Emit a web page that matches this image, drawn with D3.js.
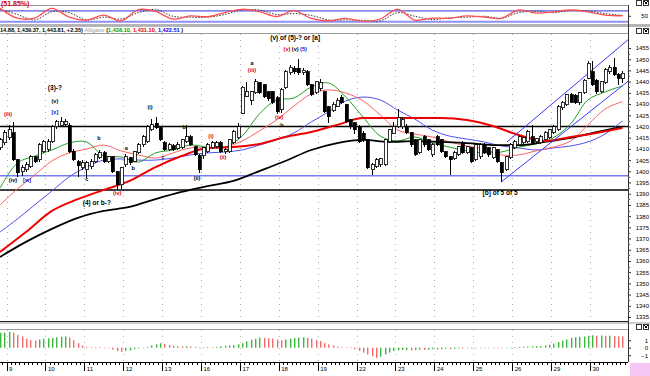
<!DOCTYPE html>
<html><head><meta charset="utf-8">
<script src="https://cdn.jsdelivr.net/npm/d3@7"></script>
<style>
body{margin:0;background:#fff}
svg{display:block}
text{font-family:"Liberation Sans",Arial,sans-serif}
</style></head>
<body><svg id="c" width="650" height="376"></svg>
<script>
// ---------- DATA ----------
const dates = ["9","10","11","12","13","16","17","18","19","22","23","24","25","26","29","30"];
const priceTicks = [1335,1340,1345,1350,1355,1360,1365,1370,1375,1380,1385,1390,1395,1400,1405,1410,1415,1420,1425,1430,1435,1440,1445,1450,1455];
// candles, index 0..144
const openP  = [1410.5,1412.7,1414.9,1417.1,1405.1,1399.8,1400.7,1402,1406.4,1405.1,1408.7,1409.6,1413.1,1419.8,1420.3,1421,1420.5,1409,1404.2,1401.5,
1400.7,1402,1404.2,1406,1408.2,1404.2,1406.4,1399.8,1394,1402.9,1406,1404.5,1408.2,1411.8,1413.1,1418.5,1421.5,1419.4,1412.7,1409.6,
1411.5,1410,1410.5,1413.1,1415.4,1410.9,1407,1407,1408.7,1410.5,1411,1412.7,1408.7,1408.7,1412.7,1414.9,1426,1433.5,1431.8,1435,
1439.4,1438.5,1435.4,1435.4,1432.7,1427.4,1437.2,1443.9,1446,1446,1443.9,1444.3,1438.5,1435,1437,1435.4,1428.7,1427,1429,1433,
1429.6,1422.9,1421.6,1419.8,1417,1414,1400.7,1402,1403,1402.9,1413.1,1417,1419.8,1419.8,1420,1417.1,1414,1408.2,1415.4,1414,
1407.3,1415.4,1414,1408.7,1406.4,1405.5,1407.3,1412.7,1408.2,1410.5,1405.1,1406.4,1411.8,1410.5,1406,1409.6,1403.8,1400.7,1406,1410.5,
1411.8,1412.7,1413.1,1415.4,1413.1,1412.7,1414,1414.9,1417.1,1418.5,1428.3,1429.6,1434.1,1434,1430.5,1435,1441.6,1444.3,1440.7,1435.4,
1439.4,1444.3,1446.5,1443.4,1441.5];
const highP  = [1415,1418.5,1420.7,1422,1405.5,1403,1404,1407.3,1407,1412.7,1414,1414.5,1420.7,1422.9,1424.3,1423.5,1421.5,1410,1405,1405,
1404.5,1405.5,1408,1409.6,1409,1407,1407,1400.3,1402,1407.5,1406.5,1409.2,1412.5,1416,1420.5,1423.5,1424.3,1419.8,1413.5,1412.5,
1412,1413,1414.5,1420.7,1416,1411.5,1407.5,1411,1412.5,1413.5,1413.5,1413.5,1410.5,1414.5,1418.2,1421.6,1438.2,1439.9,1436,1441,
1440,1439,1436,1436,1433.5,1437,1445,1447.5,1447,1450.1,1446,1445,1439,1440.5,1441,1436,1429,1431,1432.5,1434,
1430,1423.5,1422,1420.5,1418,1414.5,1403.5,1406,1406,1414.5,1419,1422,1428,1424,1421,1417.6,1414.5,1414.5,1416,1414.5,
1412.5,1416,1414.5,1409,1407,1409,1411.5,1413.5,1411.5,1411,1412.5,1412.5,1412.5,1411,1411,1410,1404.2,1407,1412.5,1414,
1416,1415.5,1418.2,1420.7,1415,1416,1417.8,1419,1420.5,1429.5,1431.5,1434.6,1435,1434.5,1435.5,1441.2,1449.2,1449,1441,1440.5,
1446,1447.5,1450.5,1443.9,1444.88];
const lowP   = [1409.6,1411.8,1414,1404.5,1397.5,1397.8,1399.8,1401.5,1403.5,1404.2,1408,1408.7,1412.7,1419,1419.8,1420,1408.2,1404.5,1397.5,1400.5,
1397,1401,1403.5,1405.5,1403.5,1403.5,1399.3,1391.7,1392,1402,1403,1404,1407.8,1411,1412.7,1418,1418.8,1413.5,1409,1409,
1409,1409.6,1410,1412.7,1411.3,1406.8,1399.3,1405.5,1408,1410,1410.5,1408.2,1407.5,1408.2,1412.2,1414.5,1425.5,1433,1429.6,1434.5,
1434.5,1432.5,1431.5,1430,1425.5,1426,1436.5,1443,1443.5,1443,1443,1438,1433.5,1434.5,1436,1426,1421.5,1426.5,1428.5,1430,
1421.5,1419,1416.5,1412.5,1413,1401,1398.4,1401.5,1402,1402.5,1412.5,1416.5,1419.4,1419,1416.5,1411,1406.8,1407.5,1411,1409,
1406.5,1411.3,1408,1405.8,1398.4,1405,1406.8,1407.5,1407.5,1403.5,1404.5,1405.5,1407.5,1406.5,1405.5,1403.5,1395.3,1400,1405.5,1410,
1411.3,1412,1412.7,1412,1412.5,1412,1413.5,1414.5,1416.5,1418,1427.5,1429,1430.5,1430,1429.6,1434.5,1441,1438,1434.6,1434.8,
1439,1443.5,1442.5,1438.5,1439.37];
const closeP = [1414,1417.1,1418.5,1405.1,1399.3,1401.5,1402.9,1406.4,1404.2,1411.8,1413.1,1413.1,1419.8,1422,1422,1422,1408.7,1405.1,1402.4,1403.8,
1403.8,1404.2,1407.3,1408.2,1404.2,1406.4,1399.8,1394,1401.5,1406.4,1403.8,1408.7,1411.8,1415.4,1419.8,1420.7,1419.4,1414,1409.6,1411.8,
1409.6,1411.8,1414,1415.4,1411.8,1407.3,1400.7,1410.5,1411.8,1412.7,1412.7,1408.7,1409.6,1414,1417.6,1419.8,1437.6,1435.5,1435.4,1439.9,
1435,1433.2,1432.3,1430.9,1426.5,1436.3,1444.3,1446.5,1444.3,1443.9,1445,1438.5,1434.1,1439.9,1439.5,1426.5,1424.3,1430,1431.8,1430.5,
1422,1419.8,1418.5,1413.1,1414,1401.5,1402.9,1405.1,1405.5,1414,1418.5,1419.8,1423.8,1422.9,1417.1,1411.8,1407.3,1414,1411.8,1409.6,
1411.8,1411.8,1408.7,1406.4,1405.1,1408.2,1410.9,1408.2,1410.9,1404.2,1411.8,1411.8,1408.2,1407.3,1410.5,1404.2,1399.3,1406.4,1411.8,1413.1,
1415.4,1414.9,1417.6,1412.7,1414.5,1415.4,1417.1,1418.5,1419.8,1428.7,1430.9,1434.1,1430.9,1430.5,1435,1440.7,1448.3,1438.5,1435.4,1439.9,
1445.2,1446.5,1443,1441.46,1443.81];
// moving averages read every 6 bars (thick) and every 4 bars (alligator)
const maSlowIdx = [0,6,12,18,24,30,36,42,48,54,60,66,72,78,84,90,96,102,108,114,120,126,132,138,144];
const maRed  = [1364.0,1372.9,1382.3,1387.6,1391.7,1395.7,1401.9,1406.8,1410.4,1410.8,1412.2,1415.3,1417.5,1420.7,1423.8,1423.8,1423.8,1423.8,1422.9,1420.2,1416.2,1413.5,1415.3,1417.1,1419.3];
const maBlack= [1361.8,1368.5,1374.3,1379.2,1382.3,1384.1,1387.6,1390.8,1393.4,1395.7,1400.1,1404.6,1409.5,1412.6,1414.0,1413.1,1413.5,1413.1,1412.6,1411.7,1411.7,1413.1,1414.9,1417.5,1419.8];
const alliIdx = [0,4,8,12,16,20,24,28,32,36,40,44,48,52,56,60,64,68,72,76,80,84,88,92,96,100,104,108,112,116,120,124,128,132,136,140,144];
const lips  = [1392.5,1403.7,1406.8,1409.5,1412.6,1413.1,1406.8,1406.4,1404.1,1408.2,1409.5,1411.7,1410.8,1410.8,1415.7,1425.6,1431.8,1432.7,1437.6,1439.4,1433.1,1424.2,1415.7,1413.5,1415.3,1412.6,1410.8,1409.1,1408.2,1408.6,1410.8,1412.2,1414.9,1421.1,1431.8,1435.4,1438.1];
const teeth = [1385.0,1392.1,1398.3,1404.6,1408.2,1409.9,1411.7,1409.1,1407.3,1405.9,1408.2,1410.4,1410.4,1410.8,1413.5,1418.0,1422.9,1429.1,1434.5,1436.3,1434.9,1431.4,1425.1,1418.4,1416.6,1415.3,1413.1,1411.3,1409.9,1407.3,1407.3,1409.1,1410.8,1413.5,1420.7,1427.8,1431.1];
const jaw   = [1372.9,1378.7,1385.0,1391.2,1397.5,1401.9,1405.0,1405.5,1405.0,1405.0,1405.9,1407.3,1408.2,1408.6,1409.5,1411.7,1414.0,1417.1,1422.0,1426.5,1431.4,1433.1,1431.8,1427.3,1423.3,1418.4,1415.7,1414.4,1413.1,1411.3,1410.4,1409.5,1410.4,1411.3,1413.1,1416.6,1422.5];
// oscillator (top panel), read every 4 bars
const oscK = [94,40,40,94,46,29,57,24,87,77,35,52,48,71,89,76,49,81,38,24,38,22,35,88,29,40,39,52,46,39,85,68,74,85,74,57,53];
const oscD = [90,60,30,75,70,30,45,35,70,88,50,45,45,60,85,85,60,65,55,30,30,28,25,70,50,32,42,45,50,40,70,78,70,82,80,65,55];
const oscLevels = [80,20];
// histogram (bottom panel), one per bar
const hist = [2.0,2.0,2.1,2.0,1.7,1.5,1.2,1.0,0.95,1.1,1.2,1.25,1.3,1.4,1.45,1.5,1.35,1.0,0.6,0.3,
0.1,0.05,0.02,0.05,0.02,-0.1,-0.25,-0.45,-0.55,-0.45,-0.35,-0.2,-0.1,0.0,0.1,0.3,0.45,0.6,0.5,0.35,
0.25,0.2,0.18,0.2,0.17,0.12,0.05,0.03,0.08,0.05,0.1,0.2,0.25,0.3,0.35,0.45,0.6,0.85,1.05,1.2,
1.35,1.3,1.25,1.2,1.1,1.0,1.1,1.2,1.3,1.35,1.4,1.3,1.2,1.0,0.9,0.6,0.45,0.3,0.15,0.1,
0.05,0.03,-0.2,-0.45,-0.65,-0.9,-1.15,-1.35,-1.2,-0.9,-0.65,-0.45,-0.35,-0.3,-0.3,-0.35,-0.3,-0.28,-0.3,-0.25,
-0.2,-0.25,-0.2,-0.15,-0.2,-0.15,-0.1,-0.12,-0.08,-0.1,-0.05,-0.08,-0.03,-0.05,-0.02,-0.05,-0.08,-0.03,0.02,0.05,
0.1,0.12,0.15,0.18,0.2,0.22,0.3,0.4,0.55,0.75,0.95,1.1,1.3,1.4,1.45,1.5,1.6,1.65,1.6,1.62,
1.58,1.6,1.55,1.52,1.5];
const histTicks = [1,0,-1];
// horizontal reference lines and channel
const hLinesBlack = [1420, 1391.6];
const hLinesBlue = [1398];
const channelUpper = [[117.3,1413.1],[146,1459.8]];
const channelLower = [[116,1395.3],[146,1441.2]];
// wave labels: [bar index, price, text, colour key]
const waveLabels = [
 [1.85,1425.6,"(iii)","r"],[3.0,1396.1,"(iv)","k"],[6.25,1396.1,"[w]","b"],
 [12.7,1437.2,"(3)-?","kb"],[12.7,1431.4,"(v)","k"],[12.7,1426.5,"[x]","b"],
 [22.9,1414.9,"b","k"],[20.1,1396.6,"c","k"],[29.2,1410.4,"a","k"],[30.8,1401.5,"b","k"],
 [27.1,1390.3,"(iv)","r"],[22.4,1385.9,"(4) or b-?","kb"],
 [34.7,1428.7,"(i)","k"],[37.7,1406.4,"c","k"],[42.6,1419.8,"b","k"],[45.6,1397.0,"(ii)","k"],
 [48.8,1415.7,"(i)","r"],[51.6,1406.4,"(ii)","r"],
 [58.3,1448.3,"a","k"],[58.3,1445.2,"(iii)","r"],[64.6,1424.2,"(iv)","r"],[65.2,1420.7,"b","k"],
 [68.3,1459.5,"(v) of (5)-? or [a]","kb"],
 [115.7,1390.3,"[b] of 5 of 5","kb"]
];
const topLabels = [["(v)","r"],["(v)","k"],["(5)","b"]];

// ---------- DRAW ----------
const svg = d3.select("#c");
const AX = 628;
const x = d3.scaleLinear().domain([0,144]).range([0.02,622.4]);
const y = d3.scaleLinear().domain([1335,1455]).range([317,48]);
const yo = d3.scaleLinear().domain([0,100]).range([25.3,7.3]);
const yh = d3.scaleLinear().domain([-1,1]).range([355.2,340.2]);
const colors = {r:"#e00000",k:"#000",b:"#1010d0",kb:"#000"};
const dayIdx = dates.map((d,i)=>1.5+9*i);

const defs = svg.append("defs");
defs.append("clipPath").attr("id","cm").append("rect").attr("x",0).attr("y",34).attr("width",AX).attr("height",287);
defs.append("clipPath").attr("id","co").append("rect").attr("x",0).attr("y",6).attr("width",AX).attr("height",18);
defs.append("clipPath").attr("id","ch").append("rect").attr("x",0).attr("y",330).attr("width",AX).attr("height",32);

// panel frames
const frame = svg.append("g").attr("shape-rendering","crispEdges");
frame.append("line").attr("x1",0).attr("x2",AX).attr("y1",5.5).attr("y2",5.5).attr("stroke","#9a9a9a");
frame.append("rect").attr("x",0).attr("y",24).attr("width",650).attr("height",3).attr("fill","#b4b4b4");
frame.append("line").attr("x1",0).attr("x2",AX).attr("y1",33.5).attr("y2",33.5).attr("stroke","#9a9a9a");
frame.append("line").attr("x1",0).attr("x2",AX).attr("y1",321.5).attr("y2",321.5).attr("stroke","#222");
frame.append("rect").attr("x",0).attr("y",322).attr("width",650).attr("height",2).attr("fill","#ccc");
frame.append("line").attr("x1",0).attr("x2",AX).attr("y1",329.5).attr("y2",329.5).attr("stroke","#9a9a9a");
frame.append("line").attr("x1",AX+0.5).attr("x2",AX+0.5).attr("y1",5).attr("y2",362).attr("stroke","#333");
// window icons
[[0],[28],[324]].forEach(([yy])=>{
  frame.append("rect").attr("x",636.5).attr("y",yy+0.5).attr("width",5).attr("height",5).attr("fill","#fff").attr("stroke","#333");
  frame.append("rect").attr("x",643.5).attr("y",yy+0.5).attr("width",5).attr("height",5).attr("fill","#fff").attr("stroke","#333");
  frame.append("path").attr("d",`M644.5,${yy+1.5}L647.5,${yy+4.5}M647.5,${yy+1.5}L644.5,${yy+4.5}`).attr("stroke","#000");
});
svg.append("rect").attr("x",630).attr("y",363).attr("width",20).attr("height",13).attr("fill","#f6c6f2");

// titles
svg.append("text").attr("x",1).attr("y",6).attr("font-size",7).attr("font-weight","bold").attr("fill","#d00000").text("(51.85%)");
const hdr = svg.append("text").attr("x",0).attr("y",32).attr("font-size",5.6).attr("font-weight","bold");
hdr.append("tspan").attr("fill","#000").text("14.88, 1,439.37, 1,443.81, +2.35) ");
hdr.append("tspan").attr("fill","#999").attr("font-weight","normal").text("Alligator ");
hdr.append("tspan").attr("fill","#000").text("(");
hdr.append("tspan").attr("fill","#00a000").text("1,438.10, ");
hdr.append("tspan").attr("fill","#e00000").text("1,431.10, ");
hdr.append("tspan").attr("fill","#0000e0").text("1,422.51");
hdr.append("tspan").attr("fill","#000").text(" )");

// ---- top oscillator ----
const go = svg.append("g").attr("clip-path","url(#co)");
go.selectAll("line.lv").data(oscLevels).enter().append("line")
  .attr("x1",0).attr("x2",AX).attr("y1",d=>yo(d)).attr("y2",d=>yo(d))
  .attr("stroke",(d,i)=>i===0?"#3030e0":"#9090f0").attr("stroke-width",(d,i)=>i===0?1:2);
const oline = d3.line().x((d,i)=>x(alliIdx[i])).y(d=>yo(d)).curve(d3.curveCatmullRom);
go.append("path").attr("d",oline(oscD)).attr("fill","none").attr("stroke","#333").attr("stroke-width",1).attr("stroke-dasharray","1.5,1.5");
go.append("path").attr("d",oline(oscK)).attr("fill","none").attr("stroke","#ff5050").attr("stroke-width",1.3);
svg.append("line").attr("x1",AX).attr("x2",AX+3).attr("y1",yo(50)).attr("y2",yo(50)).attr("stroke","#333");
svg.append("text").attr("x",648).attr("y",yo(50)+2).attr("text-anchor","end").attr("font-size",6).text("50");

// ---- main panel ----
const gm = svg.append("g").attr("clip-path","url(#cm)");
gm.selectAll("line.vg").data(dayIdx).enter().append("line")
  .attr("x1",d=>Math.round(x(d))+0.5).attr("x2",d=>Math.round(x(d))+0.5).attr("y1",34).attr("y2",321)
  .attr("stroke","#aaa").attr("stroke-dasharray","1,5");
gm.selectAll("line.hb").data(hLinesBlue).enter().append("line")
  .attr("x1",0).attr("x2",AX).attr("y1",d=>y(d)).attr("y2",d=>y(d)).attr("stroke","#7a7af0").attr("stroke-width",1.5);
gm.selectAll("line.hk").data(hLinesBlack).enter().append("line")
  .attr("x1",0).attr("x2",AX).attr("y1",d=>y(d)).attr("y2",d=>y(d)).attr("stroke","#000").attr("stroke-width",1.5);

const lSlow = d3.line().x((d,i)=>x(maSlowIdx[i])).y(d=>y(d)).curve(d3.curveMonotoneX);
const lAlli = d3.line().x((d,i)=>x(alliIdx[i])).y(d=>y(d)).curve(d3.curveCatmullRom);
gm.append("path").attr("d",lAlli(jaw)).attr("fill","none").attr("stroke","#5050f0").attr("stroke-width",1);
gm.append("path").attr("d",lAlli(teeth)).attr("fill","none").attr("stroke","#ff6060").attr("stroke-width",1);
gm.append("path").attr("d",lAlli(lips)).attr("fill","none").attr("stroke","#20a020").attr("stroke-width",1);
gm.append("path").attr("d",lSlow(maBlack)).attr("fill","none").attr("stroke","#000").attr("stroke-width",1.8);
gm.append("path").attr("d",lSlow(maRed)).attr("fill","none").attr("stroke","#f00000").attr("stroke-width",2);
const lCh = d3.line().x(d=>x(d[0])).y(d=>y(d[1]));
[channelUpper,channelLower].forEach(c=>gm.append("path").attr("d",lCh(c)).attr("stroke","#3a3aff").attr("stroke-width",1).attr("fill","none"));

// candles
const cd = d3.range(openP.length);
const gc = gm.append("g").attr("shape-rendering","crispEdges");
gc.selectAll("line.w").data(cd).enter().append("line")
  .attr("x1",i=>Math.round(x(i))+0.5).attr("x2",i=>Math.round(x(i))+0.5)
  .attr("y1",i=>y(highP[i])).attr("y2",i=>y(lowP[i])).attr("stroke","#000");
gc.selectAll("rect.b").data(cd).enter().append("rect")
  .attr("x",i=>Math.round(x(i))-1)
  .attr("width",3)
  .attr("y",i=>y(Math.max(openP[i],closeP[i])))
  .attr("height",i=>Math.max(1,Math.abs(y(openP[i])-y(closeP[i]))))
  .attr("fill",i=>closeP[i]>=openP[i]?"#fff":"#000")
  .attr("stroke","#000").attr("stroke-width",0.8);

// wave labels
const gl = svg.append("g");
gl.selectAll("text").data(waveLabels).enter().append("text")
  .attr("x",d=>x(d[0])).attr("y",d=>y(d[1])+2.2)
  .attr("text-anchor","middle")
  .attr("font-size",d=>d[3]==="kb"?6.5:5.5)
  .attr("font-weight","bold")
  .attr("fill",d=>colors[d[3]]).text(d=>d[2]);
const tl = svg.append("text").attr("x",x(68.3)).attr("y",y(1454.6)+2.2).attr("font-size",5.5).attr("font-weight","bold").attr("text-anchor","middle");
topLabels.forEach(t=>tl.append("tspan").attr("fill",colors[t[1]]).text(t[0]+" "));

// right price axis
const ax = svg.append("g").attr("transform",`translate(${AX},0)`)
  .call(d3.axisRight(y).tickValues(priceTicks).tickSize(3).tickFormat(d3.format("d")));
ax.select(".domain").remove();
ax.selectAll("line").attr("stroke","#333");
ax.selectAll("text").attr("x",21).attr("text-anchor","end").attr("font-size",6).attr("font-family","Liberation Sans, Arial").attr("fill","#000");
svg.append("g").selectAll("line").data(priceTicks.slice(0,-1)).enter().append("line")
  .attr("x1",AX).attr("x2",AX+2).attr("y1",d=>Math.round(y(d+2.5))+0.5).attr("y2",d=>Math.round(y(d+2.5))+0.5).attr("stroke","#555");

// ---- bottom histogram ----
const gh = svg.append("g").attr("clip-path","url(#ch)");
gh.selectAll("line.vg").data(dayIdx).enter().append("line")
  .attr("x1",d=>Math.round(x(d))+0.5).attr("x2",d=>Math.round(x(d))+0.5).attr("y1",330).attr("y2",362)
  .attr("stroke","#bbb").attr("stroke-dasharray","1,5");
gh.selectAll("rect").data(hist).enter().append("rect")
  .attr("x",(d,i)=>Math.round(x(i))).attr("width",1.4)
  .attr("y",d=>Math.min(yh(d),yh(0))).attr("height",d=>Math.max(0.6,Math.abs(yh(d)-yh(0))))
  .attr("fill",(d,i)=> (i===0 || d>=hist[i-1]) ? "#3cb83c" : "#f26a6a");
const ah = svg.append("g").attr("transform",`translate(${AX},0)`)
  .call(d3.axisRight(yh).tickValues(histTicks).tickSize(3).tickFormat(d3.format("d")));
ah.select(".domain").remove();
ah.selectAll("line").attr("stroke","#333");
ah.selectAll("text").attr("x",20).attr("text-anchor","end").attr("font-size",6).attr("fill","#000");

// bottom date axis
const gx = svg.append("g").attr("shape-rendering","crispEdges");
gx.append("line").attr("x1",0).attr("x2",AX).attr("y1",362.5).attr("y2",362.5).attr("stroke","#000");
gx.selectAll("line.mn").data(d3.range(-0.5,145,1)).enter().append("line")
  .attr("x1",d=>Math.round(x(d))+0.5).attr("x2",d=>Math.round(x(d))+0.5).attr("y1",362).attr("y2",365).attr("stroke","#000");
gx.selectAll("line.mj").data(dayIdx).enter().append("line")
  .attr("x1",d=>Math.round(x(d))+0.5).attr("x2",d=>Math.round(x(d))+0.5).attr("y1",362).attr("y2",371).attr("stroke","#000");
gx.selectAll("text").data(dates).enter().append("text")
  .attr("x",(d,i)=>x(dayIdx[i])+2.5).attr("y",371).attr("font-size",6).attr("fill","#000").text(d=>d);
</script></body></html>
